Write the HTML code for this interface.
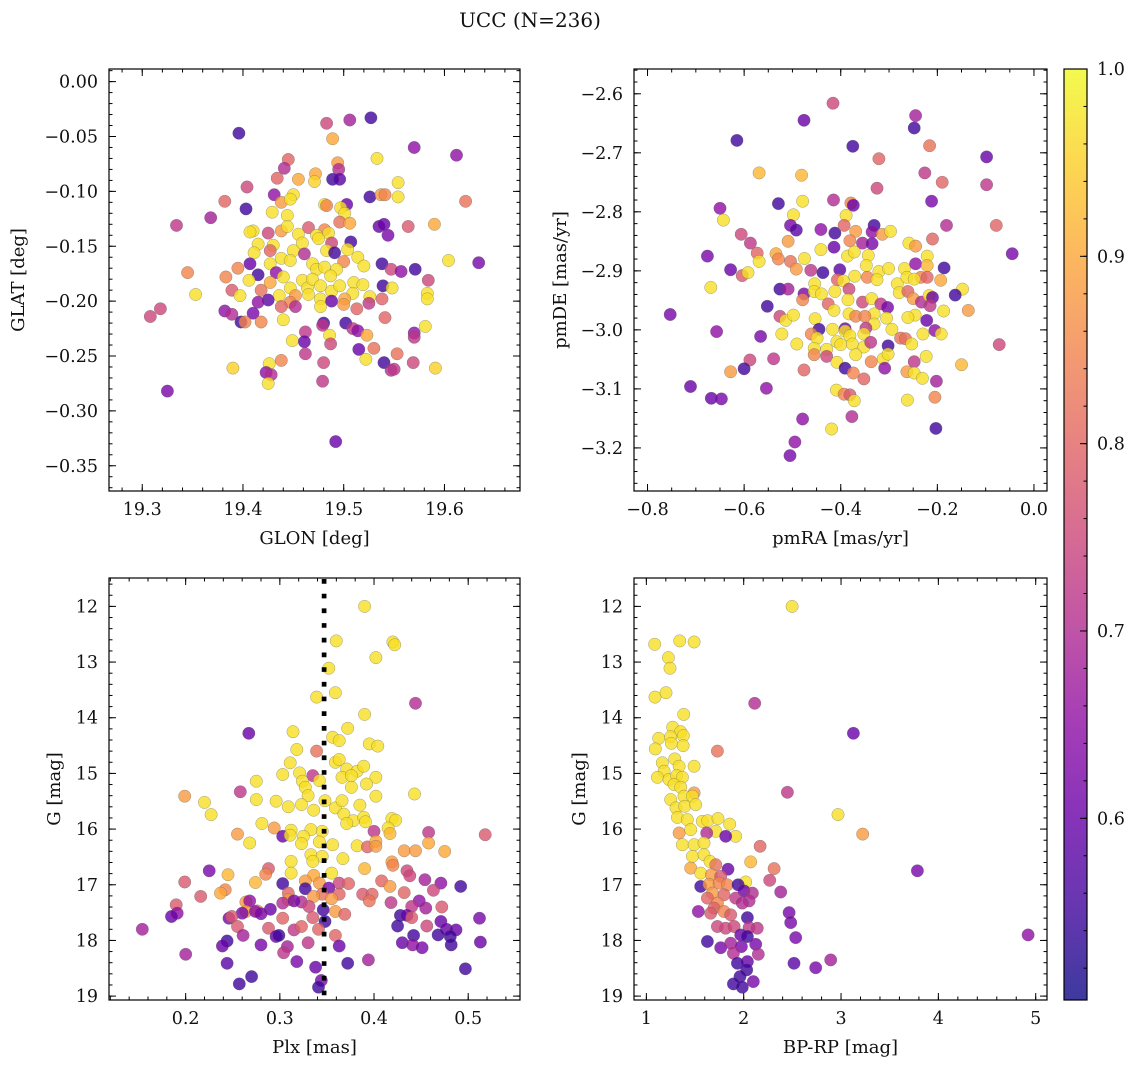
<!DOCTYPE html>
<html><head><meta charset="utf-8"><title>UCC (N=236)</title>
<style>
html,body{margin:0;padding:0;background:#fff;}
svg{display:block;font-family:"DejaVu Serif","Liberation Serif",serif;}
</style></head>
<body>
<svg id="fig" width="1136" height="1068" viewBox="0 0 1136 1068" xmlns="http://www.w3.org/2000/svg">
<text x="530" y="27" font-size="20" text-anchor="middle" fill="#111">UCC (N=236)</text>
</svg>
<script>
// ---- data: [x, y, membership probability] ----
const tlPoints = [
[19.396,-0.047,0.55],[19.483,-0.038,0.75],[19.506,-0.035,0.68],[19.527,-0.033,0.55],[19.489,-0.052,0.9],[19.570,-0.060,0.65],[19.612,-0.067,0.65],[19.533,-0.070,0.97],[19.445,-0.071,0.8],[19.441,-0.079,0.7],[19.494,-0.074,0.88],[19.495,-0.080,0.7],[19.434,-0.088,0.8],[19.455,-0.089,0.9],[19.472,-0.084,0.9],[19.471,-0.091,0.95],[19.489,-0.089,0.55],[19.496,-0.089,0.58],[19.554,-0.092,0.97],[19.554,-0.105,0.97],[19.526,-0.105,0.55],[19.537,-0.103,0.88],[19.541,-0.103,0.85],[19.621,-0.109,0.82],[19.404,-0.096,0.75],[19.431,-0.103,0.65],[19.450,-0.103,0.97],[19.438,-0.110,0.88],[19.447,-0.107,0.97],[19.382,-0.109,0.8],[19.403,-0.116,0.55],[19.429,-0.119,0.97],[19.444,-0.122,0.97],[19.481,-0.112,0.97],[19.483,-0.113,0.85],[19.503,-0.112,0.6],[19.497,-0.115,0.97],[19.501,-0.120,0.97],[19.496,-0.128,0.82],[19.506,-0.129,0.9],[19.368,-0.124,0.68],[19.334,-0.131,0.72],[19.410,-0.136,0.97],[19.407,-0.137,0.97],[19.425,-0.138,0.75],[19.438,-0.136,0.88],[19.444,-0.132,0.97],[19.465,-0.133,0.78],[19.481,-0.135,0.85],[19.535,-0.132,0.6],[19.540,-0.130,0.6],[19.544,-0.140,0.62],[19.564,-0.132,0.78],[19.590,-0.130,0.9],[19.455,-0.139,0.97],[19.473,-0.140,0.97],[19.485,-0.138,0.97],[19.507,-0.146,0.55],[19.430,-0.149,0.97],[19.415,-0.148,0.97],[19.411,-0.156,0.97],[19.427,-0.154,0.8],[19.450,-0.154,0.97],[19.459,-0.147,0.97],[19.475,-0.143,0.97],[19.488,-0.147,0.75],[19.483,-0.154,0.97],[19.504,-0.153,0.97],[19.491,-0.156,0.55],[19.514,-0.160,0.97],[19.520,-0.168,0.97],[19.500,-0.164,0.85],[19.604,-0.163,0.97],[19.634,-0.165,0.62],[19.538,-0.166,0.55],[19.547,-0.171,0.75],[19.557,-0.173,0.65],[19.571,-0.171,0.55],[19.584,-0.181,0.75],[19.438,-0.161,0.97],[19.447,-0.163,0.97],[19.461,-0.157,0.7],[19.469,-0.166,0.97],[19.473,-0.171,0.97],[19.481,-0.169,0.97],[19.493,-0.171,0.97],[19.487,-0.177,0.97],[19.427,-0.166,0.97],[19.407,-0.166,0.6],[19.395,-0.170,0.85],[19.415,-0.176,0.55],[19.433,-0.174,0.65],[19.440,-0.178,0.97],[19.427,-0.183,0.9],[19.406,-0.181,0.97],[19.383,-0.178,0.85],[19.345,-0.174,0.85],[19.389,-0.190,0.78],[19.418,-0.190,0.82],[19.397,-0.195,0.97],[19.353,-0.194,0.97],[19.447,-0.188,0.97],[19.459,-0.181,0.97],[19.464,-0.188,0.97],[19.469,-0.180,0.97],[19.477,-0.186,0.97],[19.452,-0.195,0.88],[19.436,-0.195,0.97],[19.447,-0.201,0.85],[19.465,-0.194,0.97],[19.477,-0.198,0.97],[19.488,-0.191,0.97],[19.496,-0.186,0.97],[19.510,-0.183,0.97],[19.519,-0.185,0.97],[19.509,-0.193,0.97],[19.501,-0.198,0.9],[19.539,-0.186,0.55],[19.548,-0.188,0.97],[19.526,-0.196,0.97],[19.538,-0.198,0.8],[19.525,-0.202,0.72],[19.583,-0.193,0.97],[19.583,-0.198,0.97],[19.477,-0.205,0.97],[19.488,-0.200,0.6],[19.500,-0.203,0.88],[19.513,-0.207,0.8],[19.425,-0.199,0.58],[19.415,-0.201,0.65],[19.438,-0.205,0.8],[19.452,-0.205,0.7],[19.318,-0.207,0.75],[19.308,-0.214,0.75],[19.382,-0.209,0.65],[19.389,-0.212,0.7],[19.410,-0.211,0.62],[19.398,-0.219,0.55],[19.402,-0.219,0.85],[19.418,-0.219,0.85],[19.440,-0.217,0.97],[19.541,-0.215,0.8],[19.480,-0.220,0.55],[19.479,-0.222,0.72],[19.502,-0.220,0.55],[19.509,-0.225,0.72],[19.514,-0.227,0.65],[19.581,-0.223,0.97],[19.570,-0.229,0.65],[19.570,-0.233,0.72],[19.462,-0.228,0.72],[19.449,-0.236,0.97],[19.461,-0.237,0.6],[19.486,-0.231,0.97],[19.487,-0.239,0.75],[19.523,-0.231,0.9],[19.462,-0.248,0.72],[19.515,-0.244,0.6],[19.530,-0.243,0.82],[19.553,-0.248,0.82],[19.480,-0.256,0.75],[19.522,-0.253,0.97],[19.540,-0.256,0.55],[19.547,-0.263,0.7],[19.550,-0.262,0.72],[19.569,-0.256,0.75],[19.591,-0.261,0.95],[19.390,-0.261,0.95],[19.438,-0.254,0.85],[19.426,-0.257,0.97],[19.423,-0.265,0.65],[19.428,-0.267,0.7],[19.425,-0.275,0.97],[19.479,-0.273,0.72],[19.325,-0.282,0.62],[19.492,-0.328,0.6]
];
const trPoints = [
[-0.416,-2.616,0.75],[-0.476,-2.645,0.6],[-0.245,-2.637,0.68],[-0.248,-2.658,0.55],[-0.615,-2.679,0.55],[-0.375,-2.689,0.55],[-0.216,-2.688,0.82],[-0.321,-2.710,0.8],[-0.098,-2.707,0.6],[-0.226,-2.734,0.72],[-0.190,-2.750,0.8],[-0.098,-2.754,0.72],[-0.569,-2.734,0.92],[-0.481,-2.738,0.92],[-0.325,-2.760,0.75],[-0.415,-2.780,0.7],[-0.479,-2.782,0.97],[-0.529,-2.786,0.55],[-0.379,-2.785,0.85],[-0.374,-2.789,0.6],[-0.212,-2.782,0.62],[-0.650,-2.794,0.65],[-0.643,-2.814,0.97],[-0.498,-2.805,0.97],[-0.389,-2.806,0.97],[-0.504,-2.823,0.62],[-0.492,-2.831,0.58],[-0.441,-2.830,0.65],[-0.412,-2.836,0.55],[-0.393,-2.823,0.8],[-0.369,-2.833,0.88],[-0.331,-2.823,0.55],[-0.335,-2.834,0.65],[-0.314,-2.838,0.88],[-0.297,-2.833,0.97],[-0.181,-2.823,0.7],[-0.078,-2.823,0.8],[-0.210,-2.846,0.8],[-0.606,-2.838,0.75],[-0.587,-2.853,0.72],[-0.509,-2.850,0.88],[-0.414,-2.860,0.6],[-0.381,-2.849,0.85],[-0.355,-2.853,0.68],[-0.335,-2.854,0.62],[-0.259,-2.853,0.97],[-0.245,-2.858,0.88],[-0.045,-2.871,0.62],[-0.676,-2.875,0.62],[-0.573,-2.870,0.8],[-0.569,-2.884,0.97],[-0.534,-2.871,0.9],[-0.529,-2.880,0.85],[-0.475,-2.879,0.97],[-0.441,-2.864,0.97],[-0.386,-2.875,0.97],[-0.372,-2.868,0.97],[-0.343,-2.874,0.97],[-0.221,-2.875,0.97],[-0.628,-2.898,0.6],[-0.604,-2.908,0.78],[-0.592,-2.903,0.97],[-0.669,-2.928,0.97],[-0.504,-2.884,0.82],[-0.492,-2.897,0.88],[-0.462,-2.899,0.72],[-0.437,-2.903,0.55],[-0.402,-2.898,0.58],[-0.347,-2.891,0.97],[-0.321,-2.901,0.97],[-0.301,-2.896,0.97],[-0.268,-2.896,0.97],[-0.245,-2.888,0.65],[-0.221,-2.891,0.92],[-0.186,-2.895,0.55],[-0.234,-2.911,0.85],[-0.221,-2.911,0.8],[-0.193,-2.916,0.9],[-0.148,-2.931,0.97],[-0.163,-2.941,0.55],[-0.136,-2.967,0.88],[-0.072,-3.025,0.75],[-0.150,-3.059,0.92],[-0.407,-2.915,0.8],[-0.395,-2.917,0.97],[-0.371,-2.909,0.97],[-0.345,-2.911,0.85],[-0.325,-2.915,0.97],[-0.283,-2.922,0.97],[-0.263,-2.911,0.97],[-0.248,-2.914,0.97],[-0.454,-2.922,0.97],[-0.526,-2.931,0.55],[-0.509,-2.931,0.68],[-0.476,-2.939,0.62],[-0.455,-2.935,0.97],[-0.440,-2.939,0.97],[-0.412,-2.935,0.97],[-0.383,-2.931,0.75],[-0.385,-2.949,0.97],[-0.479,-2.949,0.85],[-0.552,-2.960,0.55],[-0.753,-2.974,0.62],[-0.426,-2.956,0.8],[-0.414,-2.967,0.97],[-0.383,-2.973,0.97],[-0.355,-2.953,0.75],[-0.336,-2.947,0.97],[-0.317,-2.956,0.72],[-0.303,-2.962,0.62],[-0.331,-2.973,0.97],[-0.279,-2.937,0.97],[-0.261,-2.935,0.8],[-0.250,-2.947,0.88],[-0.233,-2.953,0.7],[-0.217,-2.942,0.97],[-0.210,-2.945,0.6],[-0.215,-2.959,0.72],[-0.187,-2.968,0.97],[-0.246,-2.975,0.97],[-0.261,-2.979,0.97],[-0.222,-2.984,0.6],[-0.526,-2.977,0.75],[-0.514,-2.984,0.97],[-0.498,-2.975,0.97],[-0.453,-2.981,0.97],[-0.369,-2.977,0.85],[-0.350,-2.977,0.85],[-0.305,-2.980,0.97],[-0.331,-2.990,0.97],[-0.348,-2.997,0.72],[-0.657,-3.003,0.65],[-0.566,-3.011,0.62],[-0.522,-3.007,0.97],[-0.445,-2.999,0.55],[-0.461,-3.007,0.85],[-0.449,-3.014,0.97],[-0.417,-2.999,0.97],[-0.391,-2.998,0.6],[-0.391,-3.002,0.97],[-0.381,-3.010,0.97],[-0.352,-3.007,0.97],[-0.294,-2.999,0.97],[-0.276,-3.014,0.82],[-0.266,-3.015,0.82],[-0.230,-3.007,0.97],[-0.205,-3.001,0.65],[-0.192,-3.007,0.97],[-0.491,-3.024,0.97],[-0.455,-3.031,0.97],[-0.429,-3.033,0.97],[-0.408,-3.020,0.97],[-0.400,-3.025,0.97],[-0.376,-3.024,0.97],[-0.352,-3.029,0.97],[-0.338,-3.021,0.72],[-0.302,-3.027,0.55],[-0.253,-3.024,0.97],[-0.455,-3.042,0.85],[-0.429,-3.045,0.75],[-0.408,-3.055,0.97],[-0.369,-3.042,0.97],[-0.337,-3.054,0.85],[-0.312,-3.049,0.97],[-0.302,-3.041,0.97],[-0.248,-3.054,0.72],[-0.223,-3.045,0.97],[-0.588,-3.051,0.75],[-0.539,-3.049,0.72],[-0.600,-3.066,0.55],[-0.628,-3.071,0.88],[-0.476,-3.068,0.8],[-0.391,-3.065,0.55],[-0.374,-3.073,0.85],[-0.352,-3.083,0.8],[-0.309,-3.065,0.65],[-0.263,-3.071,0.88],[-0.248,-3.073,0.97],[-0.231,-3.082,0.97],[-0.202,-3.087,0.68],[-0.711,-3.096,0.6],[-0.668,-3.116,0.6],[-0.647,-3.117,0.62],[-0.554,-3.099,0.65],[-0.409,-3.102,0.97],[-0.393,-3.109,0.85],[-0.381,-3.110,0.78],[-0.372,-3.120,0.97],[-0.262,-3.119,0.97],[-0.205,-3.114,0.85],[-0.479,-3.151,0.65],[-0.377,-3.147,0.7],[-0.419,-3.168,0.97],[-0.203,-3.167,0.55],[-0.495,-3.190,0.65],[-0.505,-3.213,0.62]
];
const blPoints = [
[0.390,12.00,0.97],[0.360,12.62,0.97],[0.420,12.64,0.97],[0.422,12.69,0.97],[0.402,12.92,0.97],[0.352,13.11,0.97],[0.359,13.55,0.97],[0.339,13.63,0.97],[0.444,13.74,0.7],[0.390,13.94,0.97],[0.267,14.28,0.6],[0.314,14.25,0.97],[0.372,14.19,0.97],[0.356,14.35,0.97],[0.363,14.41,0.97],[0.318,14.57,0.97],[0.339,14.60,0.82],[0.395,14.47,0.97],[0.404,14.51,0.97],[0.311,14.81,0.97],[0.359,14.80,0.97],[0.363,14.75,0.97],[0.371,14.92,0.97],[0.382,14.96,0.97],[0.389,14.87,0.97],[0.303,15.02,0.97],[0.321,14.99,0.97],[0.335,15.04,0.72],[0.342,15.13,0.97],[0.366,15.07,0.97],[0.376,15.04,0.97],[0.402,15.07,0.97],[0.392,15.19,0.97],[0.324,15.14,0.97],[0.327,15.25,0.97],[0.376,15.25,0.97],[0.275,15.14,0.97],[0.258,15.33,0.72],[0.443,15.37,0.97],[0.199,15.41,0.88],[0.330,15.40,0.97],[0.402,15.41,0.97],[0.220,15.52,0.97],[0.275,15.47,0.97],[0.296,15.50,0.97],[0.309,15.60,0.97],[0.323,15.56,0.97],[0.336,15.66,0.97],[0.348,15.49,0.97],[0.359,15.62,0.97],[0.366,15.49,0.97],[0.385,15.57,0.97],[0.227,15.74,0.97],[0.368,15.73,0.97],[0.378,15.85,0.97],[0.371,15.90,0.97],[0.389,15.79,0.97],[0.391,15.87,0.97],[0.419,15.81,0.97],[0.423,15.84,0.97],[0.281,15.90,0.97],[0.294,15.98,0.88],[0.312,16.02,0.97],[0.345,16.04,0.97],[0.333,16.01,0.97],[0.415,15.98,0.97],[0.400,16.04,0.72],[0.458,16.06,0.72],[0.518,16.10,0.78],[0.255,16.09,0.88],[0.303,16.13,0.6],[0.311,16.11,0.97],[0.325,16.13,0.97],[0.417,16.08,0.92],[0.268,16.25,0.97],[0.323,16.26,0.97],[0.342,16.23,0.97],[0.356,16.28,0.97],[0.382,16.30,0.97],[0.393,16.32,0.8],[0.402,16.22,0.9],[0.402,16.31,0.88],[0.458,16.25,0.9],[0.432,16.39,0.88],[0.444,16.39,0.88],[0.475,16.40,0.9],[0.333,16.46,0.97],[0.345,16.49,0.97],[0.335,16.58,0.97],[0.367,16.53,0.97],[0.312,16.58,0.97],[0.419,16.59,0.88],[0.420,16.65,0.85],[0.390,16.71,0.92],[0.225,16.75,0.62],[0.288,16.71,0.78],[0.285,16.81,0.85],[0.312,16.79,0.97],[0.245,16.82,0.92],[0.336,16.83,0.9],[0.355,16.79,0.97],[0.435,16.75,0.75],[0.438,16.84,0.75],[0.454,16.91,0.68],[0.199,16.95,0.78],[0.274,16.96,0.92],[0.303,16.98,0.55],[0.327,16.93,0.88],[0.342,16.97,0.88],[0.363,16.97,0.75],[0.373,16.98,0.8],[0.408,16.93,0.8],[0.417,17.03,0.88],[0.471,16.97,0.65],[0.492,17.03,0.55],[0.327,17.07,0.55],[0.352,17.06,0.62],[0.242,17.09,0.85],[0.237,17.15,0.9],[0.309,17.15,0.8],[0.345,17.17,0.82],[0.363,17.17,0.8],[0.388,17.17,0.78],[0.398,17.17,0.8],[0.432,17.14,0.8],[0.463,17.10,0.75],[0.216,17.21,0.78],[0.309,17.27,0.88],[0.336,17.21,0.88],[0.355,17.25,0.88],[0.395,17.29,0.82],[0.264,17.31,0.88],[0.268,17.29,0.65],[0.303,17.33,0.7],[0.323,17.31,0.7],[0.315,17.29,0.62],[0.418,17.32,0.72],[0.448,17.29,0.65],[0.190,17.36,0.78],[0.331,17.39,0.75],[0.440,17.39,0.72],[0.455,17.42,0.68],[0.472,17.40,0.78],[0.264,17.48,0.88],[0.276,17.47,0.88],[0.274,17.48,0.65],[0.290,17.44,0.6],[0.280,17.52,0.62],[0.260,17.51,0.62],[0.346,17.45,0.55],[0.359,17.48,0.88],[0.369,17.53,0.8],[0.191,17.51,0.65],[0.185,17.57,0.6],[0.246,17.60,0.62],[0.249,17.57,0.78],[0.303,17.60,0.8],[0.335,17.59,0.78],[0.348,17.66,0.55],[0.428,17.55,0.55],[0.435,17.55,0.6],[0.440,17.59,0.78],[0.512,17.60,0.62],[0.471,17.66,0.6],[0.425,17.74,0.55],[0.456,17.74,0.75],[0.255,17.75,0.78],[0.288,17.78,0.78],[0.315,17.81,0.72],[0.154,17.80,0.68],[0.341,17.80,0.8],[0.323,17.75,0.8],[0.477,17.80,0.6],[0.487,17.81,0.6],[0.481,17.93,0.55],[0.468,17.90,0.55],[0.442,17.91,0.55],[0.261,17.91,0.68],[0.296,17.93,0.6],[0.299,17.91,0.55],[0.359,17.91,0.8],[0.244,18.01,0.55],[0.239,18.10,0.6],[0.280,18.08,0.62],[0.330,18.04,0.72],[0.363,18.10,0.6],[0.430,18.04,0.6],[0.441,18.08,0.65],[0.451,18.13,0.62],[0.482,18.08,0.55],[0.513,18.03,0.6],[0.308,18.11,0.68],[0.304,18.22,0.72],[0.200,18.25,0.68],[0.244,18.41,0.58],[0.318,18.38,0.62],[0.338,18.48,0.6],[0.372,18.41,0.55],[0.394,18.35,0.68],[0.497,18.51,0.55],[0.270,18.65,0.55],[0.257,18.78,0.55],[0.344,18.72,0.62],[0.341,18.84,0.55]
];
const brPoints = [
[2.497,12.00,0.97],[1.086,12.68,0.97],[1.343,12.62,0.97],[1.490,12.64,0.97],[1.226,12.92,0.97],[1.243,13.11,0.97],[1.089,13.63,0.97],[1.202,13.55,0.97],[2.113,13.74,0.7],[1.384,13.94,0.97],[3.127,14.28,0.6],[1.271,14.17,0.97],[1.353,14.25,0.97],[1.127,14.37,0.97],[1.250,14.34,0.97],[1.380,14.32,0.97],[1.257,14.46,0.97],[1.377,14.50,0.97],[1.092,14.56,0.97],[1.730,14.60,0.82],[1.164,14.81,0.97],[1.291,14.74,0.97],[1.336,14.87,0.97],[1.490,14.87,0.97],[1.182,14.96,0.97],[1.113,15.07,0.97],[1.233,15.11,0.97],[1.312,15.04,0.97],[1.370,15.07,0.97],[1.284,15.20,0.97],[1.353,15.25,0.97],[2.449,15.34,0.72],[1.490,15.35,0.88],[1.250,15.47,0.97],[1.387,15.41,0.97],[1.473,15.41,0.97],[1.305,15.62,0.97],[1.394,15.59,0.97],[1.507,15.56,0.97],[2.969,15.74,0.97],[1.319,15.79,0.97],[1.421,15.83,0.97],[1.575,15.86,0.97],[1.630,15.85,0.97],[1.736,15.81,0.97],[1.856,15.91,0.97],[1.712,16.04,0.97],[1.918,16.13,0.97],[3.223,16.09,0.88],[1.336,16.07,0.88],[1.456,16.01,0.97],[1.620,16.07,0.7],[1.815,16.13,0.6],[1.370,16.28,0.97],[1.490,16.28,0.97],[1.592,16.25,0.97],[2.168,16.31,0.8],[1.473,16.49,0.97],[1.592,16.46,0.97],[1.654,16.58,0.97],[2.072,16.59,0.92],[1.713,16.64,0.82],[1.456,16.70,0.9],[1.839,16.72,0.6],[2.312,16.71,0.82],[3.785,16.75,0.62],[1.558,16.79,0.97],[1.668,16.82,0.88],[1.764,16.85,0.78],[2.267,16.92,0.75],[2.021,16.95,0.97],[1.558,17.03,0.55],[1.644,16.99,0.88],[1.747,16.97,0.85],[1.832,17.00,0.85],[1.942,17.00,0.55],[2.003,17.11,0.6],[2.089,17.15,0.7],[2.380,17.13,0.68],[1.678,17.15,0.88],[1.798,17.18,0.8],[1.918,17.24,0.72],[1.627,17.24,0.8],[2.055,17.29,0.7],[1.730,17.33,0.85],[1.986,17.33,0.7],[1.695,17.42,0.8],[1.798,17.48,0.85],[1.534,17.48,0.65],[1.661,17.51,0.78],[1.866,17.54,0.78],[2.466,17.50,0.62],[2.038,17.59,0.55],[2.483,17.68,0.62],[1.730,17.75,0.75],[1.815,17.78,0.75],[1.901,17.75,0.75],[2.055,17.77,0.72],[2.140,17.78,0.72],[1.969,17.90,0.6],[2.038,17.93,0.55],[2.534,17.95,0.62],[4.922,17.90,0.65],[1.627,18.02,0.55],[1.764,18.13,0.62],[1.866,18.05,0.68],[1.976,18.11,0.62],[2.123,18.07,0.62],[1.894,18.23,0.7],[2.150,18.25,0.7],[2.038,18.38,0.6],[1.935,18.41,0.55],[2.517,18.41,0.58],[2.894,18.35,0.68],[2.740,18.49,0.62],[2.031,18.53,0.55],[1.962,18.65,0.55],[1.894,18.78,0.55],[1.986,18.84,0.55],[2.099,18.74,0.62]
];
const plxLine = 0.347;
const tlXTicks = [19.3, 19.4, 19.5, 19.6];
const tlYTicks = [0.00, -0.05, -0.10, -0.15, -0.20, -0.25, -0.30, -0.35];
const trXTicks = [-0.8, -0.6, -0.4, -0.2, 0.0];
const trYTicks = [-2.6, -2.7, -2.8, -2.9, -3.0, -3.1, -3.2];
const blXTicks = [0.2, 0.3, 0.4, 0.5];
const brXTicks = [1, 2, 3, 4, 5];
const gTicks = [12, 13, 14, 15, 16, 17, 18, 19];
const cbTicks = [0.6, 0.7, 0.8, 0.9, 1.0];
const cbRange = [0.503, 1.0];

const NS = 'http://www.w3.org/2000/svg';
const svg = document.getElementById('fig');
function mk(tag, attrs, parent) {
  const e = document.createElementNS(NS, tag);
  for (const k in attrs) e.setAttribute(k, attrs[k]);
  (parent || svg).appendChild(e);
  return e;
}
const plasmaStops = ['#0d0887','#41049d','#6a00a8','#8f0da4','#b12a90','#cc4778','#e16462','#f2844b','#fca636','#fcce25','#f0f921'];
function hex(c){return [parseInt(c.slice(1,3),16),parseInt(c.slice(3,5),16),parseInt(c.slice(5,7),16)];}
function plasma(t){
  t = Math.max(0, Math.min(1, t));
  const f = t * 10, i = Math.min(9, Math.floor(f)), r = f - i;
  const a = hex(plasmaStops[i]), b = hex(plasmaStops[i+1]);
  return 'rgb(' + a.map((v,k)=>Math.round(v + (b[k]-v)*r)).join(',') + ')';
}
function colorOf(p){ return plasma((p - cbRange[0]) / (cbRange[1] - cbRange[0])); }
function minus(s){ return s.replace('-', '\u2212'); }
const TICK_FS = 17.5, LABEL_FS = 18;

function panel(cfg) {
  const g = mk('g', {});
  
  
  const sx = v => cfg.x0 + (v - cfg.xmin) / (cfg.xmax - cfg.xmin) * cfg.w;
  const sy = v => cfg.y0 + (cfg.ytop - v) / (cfg.ytop - cfg.ybot) * cfg.h;
  const pg = mk('g', {}, g);
  
  
  cfg.points.forEach(pt => {
    const c = mk('circle', {cx: sx(pt[0]).toFixed(1), cy: sy(pt[1]).toFixed(1), r: 6.2, fill: colorOf(pt[2]), 'fill-opacity': 0.8, stroke: 'rgba(90,90,90,0.55)', 'stroke-width': 0.5}, pg);
    
    
  });
  if (cfg.vline !== undefined) {
    const l = mk('line', {x1: sx(cfg.vline), x2: sx(cfg.vline), y1: cfg.y0 + 1, y2: cfg.y0 + cfg.h, stroke: '#000', 'stroke-width': 4.7, 'stroke-dasharray': '4.7 10'}, g);
    
    
  }
  const tg = mk('g', {stroke: '#000', 'stroke-width': 1}, g);
  
  
  const xlo = Math.min(cfg.xmin, cfg.xmax), xhi = Math.max(cfg.xmin, cfg.xmax);
  const ylo = Math.min(cfg.ytop, cfg.ybot), yhi = Math.max(cfg.ytop, cfg.ybot);
  const X0 = cfg.x0, X1 = cfg.x0 + cfg.w, Y0 = cfg.y0, Y1 = cfg.y0 + cfg.h;
  for (let v = Math.ceil(xlo / cfg.xminor - 1e-6) * cfg.xminor; v <= xhi + 1e-9; v += cfg.xminor) {
    const x = sx(v);
    mk('line', {x1: x, x2: x, y1: Y1, y2: Y1 - 3.5}, tg);
    mk('line', {x1: x, x2: x, y1: Y0, y2: Y0 + 3.5}, tg);
  }
  for (let v = Math.ceil(ylo / cfg.yminor - 1e-6) * cfg.yminor; v <= yhi + 1e-9; v += cfg.yminor) {
    const y = sy(v);
    mk('line', {x1: X0, x2: X0 + 3.5, y1: y, y2: y}, tg);
    mk('line', {x1: X1, x2: X1 - 3.5, y1: y, y2: y}, tg);
  }
  cfg.xticks.forEach(v => {
    const x = sx(v);
    mk('line', {x1: x, x2: x, y1: Y1, y2: Y1 - 7}, tg);
    mk('line', {x1: x, x2: x, y1: Y0, y2: Y0 + 7}, tg);
    const t = mk('text', {x: x, y: Y1 + 24, 'font-size': TICK_FS, 'text-anchor': 'middle', fill: '#111', stroke: 'none'}, g);
    t.textContent = minus(v.toFixed(cfg.xdec));
    
    
  });
  cfg.yticks.forEach(v => {
    const y = sy(v);
    mk('line', {x1: X0, x2: X0 + 7, y1: y, y2: y}, tg);
    mk('line', {x1: X1, x2: X1 - 7, y1: y, y2: y}, tg);
    const t = mk('text', {x: X0 - 11, y: y + 6, 'font-size': TICK_FS, 'text-anchor': 'end', fill: '#111', stroke: 'none'}, g);
    t.textContent = minus(v.toFixed(cfg.ydec));
    
    
  });
  const fr = mk('rect', {x: X0, y: Y0, width: cfg.w, height: cfg.h, fill: 'none', stroke: '#000', 'stroke-width': 1.2}, g);
  
  
  const xl = mk('text', {x: X0 + cfg.w / 2, y: Y1 + 53, 'font-size': LABEL_FS, 'text-anchor': 'middle', fill: '#111'}, g);
  xl.textContent = cfg.xlabel;
  
  
  const yl = mk('text', {x: 0, y: 0, 'font-size': LABEL_FS, 'text-anchor': 'middle', fill: '#111', transform: 'translate(' + cfg.ylabelX + ',' + (Y0 + cfg.h / 2) + ') rotate(-90)'}, g);
  yl.textContent = cfg.ylabel;
  
  
}

panel({name: 'glon-glat-panel', points: tlPoints, x0: 109, y0: 69, w: 411, h: 422, xmin: 19.267, xmax: 19.675, ytop: 0.0115, ybot: -0.373,
  xticks: tlXTicks, yticks: tlYTicks, xminor: 0.02, yminor: 0.01, xdec: 1, ydec: 2, xlabel: 'GLON [deg]', ylabel: 'GLAT [deg]', ylabelX: 24});
panel({name: 'proper-motion-panel', points: trPoints, x0: 634, y0: 69, w: 413, h: 422, xmin: -0.828, xmax: 0.027, ytop: -2.558, ybot: -3.273,
  xticks: trXTicks, yticks: trYTicks, xminor: 0.05, yminor: 0.02, xdec: 1, ydec: 1, xlabel: 'pmRA [mas/yr]', ylabel: 'pmDE [mas/yr]', ylabelX: 566});
panel({name: 'parallax-panel', points: blPoints, x0: 109, y0: 578, w: 411, h: 422, xmin: 0.1186, xmax: 0.555, ytop: 11.49, ybot: 19.07,
  xticks: blXTicks, yticks: gTicks, xminor: 0.02, yminor: 0.2, xdec: 1, ydec: 0, xlabel: 'Plx [mas]', ylabel: 'G [mag]', ylabelX: 60, vline: plxLine});
panel({name: 'cmd-panel', points: brPoints, x0: 634, y0: 578, w: 413, h: 422, xmin: 0.873, xmax: 5.116, ytop: 11.49, ybot: 19.07,
  xticks: brXTicks, yticks: gTicks, xminor: 0.2, yminor: 0.2, xdec: 0, ydec: 0, xlabel: 'BP-RP [mag]', ylabel: 'G [mag]', ylabelX: 585});

(function(){
  const cx = 1064, cy = 69, cw = 23, ch = 931;
  const defs = mk('defs', {});
  const lg = mk('linearGradient', {id: 'cbgrad', x1: 0, y1: 1, x2: 0, y2: 0}, defs);
  plasmaStops.forEach((c, i) => mk('stop', {offset: (i * 10) + '%', 'stop-color': c}, lg));
  const g = mk('g', {});
  
  
  mk('rect', {x: cx, y: cy, width: cw, height: ch, fill: 'url(#cbgrad)', 'fill-opacity': 0.8}, g);
  const sy = v => cy + (cbRange[1] - v) / (cbRange[1] - cbRange[0]) * ch;
  for (let v = 0.52; v <= 1.0001; v += 0.02) {
    const y = sy(v);
    mk('line', {x1: cx + cw, x2: cx + cw - 3.5, y1: y, y2: y, stroke: '#000', 'stroke-width': 1}, g);
  }
  cbTicks.forEach(v => {
    const y = sy(v);
    mk('line', {x1: cx + cw, x2: cx + cw - 7, y1: y, y2: y, stroke: '#000', 'stroke-width': 1}, g);
    const t = mk('text', {x: cx + cw + 10, y: y + 6, 'font-size': TICK_FS, fill: '#111'}, g);
    t.textContent = v.toFixed(1);
    
    
  });
  mk('rect', {x: cx, y: cy, width: cw, height: ch, fill: 'none', stroke: '#000', 'stroke-width': 1.2}, g);
})();
</script>
</body></html>
